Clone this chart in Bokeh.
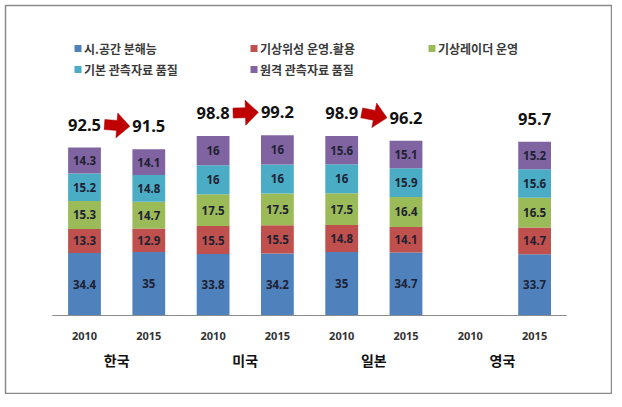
import math
import numpy as np
from bokeh.plotting import figure
from bokeh.models import Range1d, ColumnDataSource
from bokeh.core.properties import value
from bokeh.embed import file_html
from bokeh.resources import INLINE

# ---------------- data ----------------
countries = ["한국", "미국", "일본", "영국"]
years = ["2010", "2015"]
series_names = ["시.공간 분해능", "기상위성 운영.활용", "기상레이더 운영",
                "기본 관측자료 품질", "원격 관측자료 품질"]
colors = ["#4F81BD", "#C0504D", "#9BBB59", "#4BACC6", "#8064A2"]

# order: 한국2010, 한국2015, 미국2010, 미국2015, 일본2010, 일본2015, 영국2010, 영국2015
spatial = [34.4, 35.0, 33.8, 34.2, 35.0, 34.7, None, 33.7]
satellite = [13.3, 12.9, 15.5, 15.5, 14.8, 14.1, None, 14.7]
radar = [15.3, 14.7, 17.5, 17.5, 17.5, 16.4, None, 16.5]
basic_obs = [15.2, 14.8, 16.0, 16.0, 16.0, 15.9, None, 15.6]
remote_obs = [14.3, 14.1, 16.0, 16.0, 15.6, 15.1, None, 15.2]
totals = [92.5, 91.5, 98.8, 99.2, 98.9, 96.2, None, 95.7]

series = [spatial, satellite, radar, basic_obs, remote_obs]

# ---------------- layout (pixels, relative to frame) ----------------
W, H = 606, 388
X0PX = 79.0      # frame left -> first bar centre
XSTEP = 64.3     # px per category slot
Y0PX = 310.0     # frame top -> zero line
YSCALE = 1.816   # px per unit

x_start = -X0PX / XSTEP
x_end = x_start + W / XSTEP
y_end = Y0PX / YSCALE
y_start = y_end - H / YSCALE

def px2x(px):
    return x_start + px / XSTEP

def px2y(py):
    return y_end - py / YSCALE

def x2px(x):
    return (x - x_start) * XSTEP

def y2px(y):
    return (y_end - y) * YSCALE

p = figure(width=W + 6, height=H + 6, x_range=Range1d(x_start, x_end),
           y_range=Range1d(y_start, y_end), output_backend="svg",
           toolbar_location=None,
           min_border_left=5, min_border_top=5,
           min_border_right=1, min_border_bottom=1,
           x_axis_location=None, y_axis_location=None)
p.grid.visible = False
p.outline_line_color = "#8a8a8a"
p.outline_line_width = 1.5
p.background_fill_color = "white"
p.border_fill_color = "white"

KFONT = value("Noto Sans CJK KR")
NFONT = value("Noto Sans")

n_slots = len(countries) * len(years)
xs_all = list(range(n_slots))

# ---------------- stacked bars ----------------
bottoms = [0.0] * n_slots
for vals, col in zip(series, colors):
    bx, bb, bt, lx, ly, lt = [], [], [], [], [], []
    for i, v in enumerate(vals):
        if v is None:
            continue
        bx.append(xs_all[i]); bb.append(bottoms[i]); bt.append(bottoms[i] + v)
        lx.append(xs_all[i]); ly.append(bottoms[i] + v / 2); lt.append(f"{v:g}")
        bottoms[i] += v
    p.vbar(x=bx, bottom=bb, top=bt, width=0.51, fill_color=col, line_color=None)
    p.text(x=lx, y=ly, text=lt, text_align="center", text_baseline="middle",
           text_font=NFONT, text_font_size="11.5px", text_font_style="bold",
           text_color="#1e2233")

# axis line
p.line(x=[-0.5, n_slots - 0.5], y=[0, 0], line_color="#8c8c8c", line_width=1.2)

# year labels
yr_x = xs_all
yr_t = [years[i % 2] for i in xs_all]
p.text(x=yr_x, y=[px2y(330)] * n_slots, text=yr_t, text_align="center",
       text_baseline="middle", text_font=NFONT, text_font_size="11px",
       text_font_style="bold", text_color="#333333")

# country labels
c_x = [2 * k + 0.5 for k in range(len(countries))]
p.text(x=c_x, y=[px2y(354)] * len(countries), text=countries, text_align="center",
       text_baseline="middle", text_font=KFONT, text_font_size="14px",
       text_font_style="bold", text_color="#111111")

# ---------------- totals + arrows ----------------
LBL_OFF = 23.0  # px above bar top
tx, ty, tt = [], [], []
for i, t in enumerate(totals):
    if t is None:
        continue
    tx.append(xs_all[i]); ty.append(t + LBL_OFF / YSCALE); tt.append(f"{t:g}")
p.text(x=tx, y=ty, text=tt, text_align="center", text_baseline="middle",
       text_font=NFONT, text_font_size="16.5px", text_font_style="bold",
       text_color="#111111")

def arrow_poly(x1, y1, x2, y2, shaft=5.0, head=12.5, head_len=13.0):
    dx, dy = x2 - x1, y2 - y1
    L = math.hypot(dx, dy)
    ux, uy = dx / L, dy / L
    nx, ny = -uy, ux
    bx, by = x2 - ux * head_len, y2 - uy * head_len
    pts = [(x1 + nx * shaft, y1 + ny * shaft), (bx + nx * shaft, by + ny * shaft),
           (bx + nx * head, by + ny * head), (x2, y2),
           (bx - nx * head, by - ny * head), (bx - nx * shaft, by - ny * shaft),
           (x1 - nx * shaft, y1 - ny * shaft)]
    return [px2x(a) for a, b in pts], [px2y(b) for a, b in pts]

axs, ays = [], []
for k in range(len(countries)):
    i0, i1 = 2 * k, 2 * k + 1
    if totals[i0] is None or totals[i1] is None:
        continue
    x1 = x2px(xs_all[i0]) + 20
    y1 = y2px(totals[i0]) - LBL_OFF
    x2 = x2px(xs_all[i1]) - 19
    y2 = y2px(totals[i1]) - LBL_OFF
    ax, ay = arrow_poly(x1, y1, x2, y2)
    axs.append(ax); ays.append(ay)
p.patches(xs=axs, ys=ays, fill_color="#C00000", line_color="#A00000", line_width=0.5)

# ---------------- legend ----------------
leg_cols = [69.0, 245.0, 423.0]
leg_rows = [43.0, 64.0]
lsx, lsy, ltx, lty = [], [], [], []
for j, name in enumerate(series_names):
    r, c = divmod(j, 3)
    lsx.append(px2x(leg_cols[c] + 3.5)); lsy.append(px2y(leg_rows[r]))
    ltx.append(px2x(leg_cols[c] + 9.5)); lty.append(px2y(leg_rows[r]))
p.rect(x=lsx, y=lsy, width=7, height=7, width_units="screen", height_units="screen",
       fill_color=colors, line_color=None)
p.text(x=ltx, y=lty, text=series_names, text_align="left", text_baseline="middle",
       text_font=KFONT, text_font_size="12px", text_font_style="bold",
       text_color="#3a3a3a")

open("out.html", "w").write(file_html(p, INLINE))
